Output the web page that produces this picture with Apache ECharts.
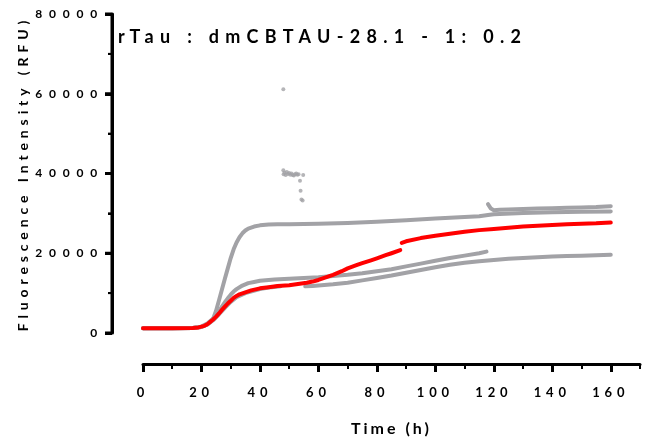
<!DOCTYPE html>
<html><head><meta charset="utf-8">
<script src="https://cdn.jsdelivr.net/npm/echarts@6/dist/echarts.min.js"></script>
<style>html,body{margin:0;padding:0;background:#fff}#c{width:652px;height:446px}</style>
</head><body><div id="c"></div>
<script>
const titleText = 'rTau : dmCBTAU-28.1 - 1: 0.2';
const xName = 'Time (h)';
const yName = 'Fluorescence Intensity (RFU)';
const xTicks = [0, 20, 40, 60, 80, 100, 120, 140, 160];
const yTicks = [0, 20000, 40000, 60000, 80000];
const yMinorTicks = [10000, 30000, 50000, 70000];

// red trace (null = gap)
const redT = [0,10,17,19,21,22,23,24,25,26,27,28,29,30,31,32,33,35,37,40,43,46,50,53,56,58,60,62,65,68,70,73,75,78,80,83,85,88,88.2,88.5,90,95,100,105,110,115,120,125,130,135,140,145,150,155,160];
const redV = [1200,1200,1250,1400,1800,2200,2800,3400,4100,4900,5800,6600,7400,8100,8800,9300,9700,10200,10700,11200,11500,11800,12000,12300,12600,12900,13300,13800,14600,15500,16200,17000,17500,18200,18700,19500,20000,20800,null,22600,23000,23800,24400,24900,25400,25800,26100,26400,26700,26900,27100,27300,27400,27500,27700];

// gray trace A (fast rise)
const grayAT = [0,10,17,20,22,23,24,25,26,27,28,29,30,31,32,33,34,35,36,38,40,43,46,50,60,70,80,90,100,110,115,118,120,130,140,150,160];
const grayAV = [1200,1200,1250,1500,2200,2800,3600,5600,8200,10900,13600,16200,18800,21000,22700,24000,25000,25700,26200,26700,27000,27200,27300,27300,27400,27600,27900,28300,28700,29100,29300,29600,29800,30100,30300,30400,30500];

// gray trace B (jumps at ~118 h)
const grayBT = [0,10,17,20,22,24,25,26,27,28,29,30,31,32,34,36,38,40,45,50,55,60,65,70,75,80,85,90,95,100,105,110,115,117.5,117.8,118,119,120,122,125,130,135,140,145,150,155,160];
const grayBV = [1200,1200,1250,1600,2400,3600,4400,5500,6600,7700,8700,9600,10400,11000,11900,12500,12800,13100,13400,13600,13800,14000,14300,14600,15000,15500,16000,16700,17400,18100,18800,19400,20000,20400,null,32300,31200,30800,30900,31000,31100,31200,31300,31400,31500,31600,31800];

// gray trace D, before the outliers
const grayD1T = [0,10,17,20,22,24,26,28,30,32,35,40,44,47];
const grayD1V = [1200,1200,1250,1500,2100,3200,4700,6300,7800,9000,10000,11000,11500,11700];
// gray trace D, outlying readings
const grayOutT = [48.0,48.0,48.1,48.4,48.8,49.2,49.6,50.0,50.4,50.8,51.2,51.6,52.0,52.4,52.8,53.2,53.7,53.9,54.2,54.6,54.8];
const grayOutV = [61100,40800,39800,40200,39600,40400,39900,40100,39700,40000,39600,39500,39800,40000,39700,39800,38200,35700,33500,33200,39600];
// gray trace D, after the outliers
const grayD2T = [55.5,58,60,65,70,75,80,85,90,95,100,105,110,115,120,125,130,135,140,145,150,155,160];
const grayD2V = [11700,11800,11900,12200,12600,13200,13800,14400,15100,15800,16500,17100,17600,18000,18300,18600,18800,19000,19200,19300,19400,19500,19600];

const GRAY = '#a2a2a6', RED = '#ff0000', FONT = 'Lato';
const Y_OFFSET = 31;

// letter spacing of the exported text (applied when the canvas draws text)
function spacingFor(t, align) {
  if (t === titleText) return 6.3;
  if (t === yName) return 4.9;
  if (t === xName) return 3;
  if (/^\d+$/.test(t)) return align === 'right' ? 6.8 : 4.8;
  return 0;
}
(function () {
  const proto = CanvasRenderingContext2D.prototype;
  const orig = proto.fillText;
  proto.fillText = function (text, x, y, maxW) {
    const s = spacingFor(String(text), this.textAlign);
    if (s && ('letterSpacing' in this)) {
      const prev = this.letterSpacing;
      this.letterSpacing = s + 'px';
      if (maxW === undefined) orig.call(this, text, x, y); else orig.call(this, text, x, y, maxW);
      this.letterSpacing = prev;
    } else {
      if (maxW === undefined) orig.call(this, text, x, y); else orig.call(this, text, x, y, maxW);
    }
  };
})();

function pairs(t, v) { return t.map((x, i) => [x, v[i] === null ? '-' : v[i]]); }
function lineSeries(t, v, color) {
  return { type: 'line', data: pairs(t, v), showSymbol: false, silent: true,
    lineStyle: { color: color, width: 4, cap: 'round', join: 'round' }, itemStyle: { color: color },
    connectNulls: false, animation: false };
}

const chart = echarts.init(document.getElementById('c'), null, { renderer: 'canvas', width: 652, height: 446 });
const lbl = { fontFamily: FONT, fontWeight: 'bold', color: '#000' };
chart.setOption({
  animation: false,
  title: { text: titleText, left: 118, top: 28, padding: 0,
    textStyle: Object.assign({ fontSize: 18 }, lbl) },
  grid: { left: 143, right: 12, top: 14, bottom: 113 },
  xAxis: [
    { type: 'value', min: 0, max: 170, interval: 10, position: 'bottom', offset: 31,
      axisLine: { show: true, onZero: false, lineStyle: { color: '#000', width: 3 } },
      axisTick: { show: true, length: 5, lineStyle: { color: '#000', width: 2 } },
      axisLabel: { show: false }, splitLine: { show: false } },
    { type: 'value', min: 0, max: 170, interval: 20, position: 'bottom', offset: 31,
      axisLine: { show: false, onZero: false },
      axisTick: { show: true, length: 8, customValues: xTicks, lineStyle: { color: '#000', width: 3 } },
      axisLabel: Object.assign({ show: true, fontSize: 13, margin: 22, customValues: xTicks }, lbl),
      splitLine: { show: false },
      name: xName, nameLocation: 'middle', nameGap: 57,
      nameTextStyle: Object.assign({ fontSize: 16 }, lbl) }
  ],
  yAxis: { type: 'value', min: 0, max: 80000, interval: 20000, position: 'left', offset: Y_OFFSET,
    axisLine: { show: true, onZero: false, lineStyle: { color: '#000', width: 3 } },
    axisTick: { show: true, length: 7, lineStyle: { color: '#000', width: 3 } },
    minorTick: { show: true, splitNumber: 2, length: 4, lineStyle: { color: '#000', width: 2 } },
    splitLine: { show: false }, minorSplitLine: { show: false },
    axisLabel: Object.assign({ fontSize: 12, margin: 8, padding: [5, 0, 0, 0],
      formatter: v => (yTicks.indexOf(v) >= 0 ? String(v) : '') }, lbl),
    name: yName, nameLocation: 'middle', nameGap: 82,
    nameTextStyle: Object.assign({ fontSize: 14 }, lbl) },
  series: [
    lineSeries(grayAT, grayAV, GRAY),
    lineSeries(grayBT, grayBV, GRAY),
    lineSeries(grayD1T, grayD1V, GRAY),
    lineSeries(grayD2T, grayD2V, GRAY),
    { type: 'scatter', data: pairs(grayOutT, grayOutV), symbolSize: 4, silent: true,
      itemStyle: { color: GRAY }, animation: false },
    lineSeries(redT, redV, RED)
  ]
});

// y axis line and ticks, positioned through the chart's own scales
(function () {
  const xLeft = chart.convertToPixel({ xAxisIndex: 0 }, 0) - Y_OFFSET;
  const py = v => chart.convertToPixel({ yAxisIndex: 0 }, v);
  const els = [{ type: 'line', silent: true, z: 50,
    shape: { x1: xLeft, y1: py(yTicks[0]), x2: xLeft, y2: py(yTicks[yTicks.length - 1]) },
    style: { stroke: '#000', lineWidth: 3 } }];
  yTicks.forEach(v => els.push({ type: 'line', silent: true, z: 50,
    shape: { x1: xLeft - 7, y1: py(v), x2: xLeft, y2: py(v) }, style: { stroke: '#000', lineWidth: 3 } }));
  yMinorTicks.forEach(v => els.push({ type: 'line', silent: true, z: 50,
    shape: { x1: xLeft - 4, y1: py(v), x2: xLeft, y2: py(v) }, style: { stroke: '#000', lineWidth: 2 } }));
  chart.setOption({ graphic: { elements: els } });
})();
</script></body></html>
